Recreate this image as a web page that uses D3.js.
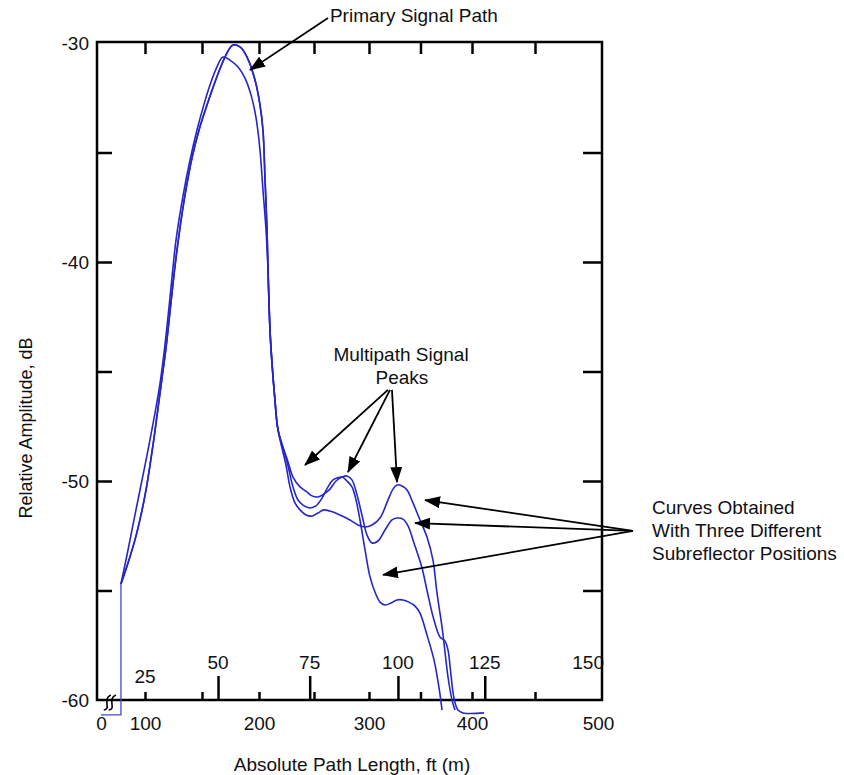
<!DOCTYPE html>
<meta charset="utf-8">
<style>
body { margin: 0; background: #fff; }
svg { display: block; background: #fff; }
text { font-family: "Liberation Sans", Arial, sans-serif; fill: #111; }
.tick line { stroke: #000; stroke-width: 2.5px; }
.axis path.domain { display: none; }
.curve { fill: none; stroke: #2626c8; stroke-width: 1.6px; }
.step { fill: none; stroke: #4646cc; stroke-width: 1.3px; }
.arrow { stroke: #000; stroke-width: 1.8px; }
</style>
<body>
<div id="chart"></div>
<script src="https://cdn.jsdelivr.net/npm/d3@7"></script>
<script>
// main lobe, two visible shapes (ft, dB)
var lobeAFt = [78.9, 85.1, 91.2, 96.5, 100.9, 104.4, 107.9, 111.4, 114.9, 118.4, 121.9, 125.4, 129.8, 135.1, 141.2, 147.4, 154.4, 161.4, 167.5, 172.8, 177.2, 183.3, 189.5, 196.5, 200.9, 203.6, 205.5, 207.3, 208.2, 210.0, 211.8, 214.5, 217.3];
var lobeADb = [-54.70, -53.74, -52.69, -51.55, -50.41, -49.27, -48.04, -46.67, -45.30, -43.93, -42.28, -40.59, -38.77, -36.94, -35.25, -33.97, -32.83, -31.78, -30.96, -30.37, -30.09, -30.18, -30.64, -31.69, -32.83, -33.97, -36.26, -38.54, -40.37, -43.11, -44.61, -46.30, -47.67];
var lobeBFt = [78.9, 85.1, 91.2, 97.4, 103.5, 108.8, 113.2, 117.5, 121.9, 127.2, 133.3, 139.5, 145.6, 151.8, 157.0, 162.3, 168.4, 174.5, 181.6, 187.7, 193.0, 197.4, 200.9, 203.6, 206.4, 208.2, 210.0, 211.8, 214.5, 217.3];
var lobeBDb = [-54.70, -53.15, -51.55, -49.95, -48.36, -46.89, -45.53, -43.79, -41.64, -39.00, -36.99, -35.34, -33.97, -32.79, -31.92, -31.19, -30.64, -30.78, -31.10, -31.60, -32.37, -33.42, -34.89, -36.71, -38.54, -40.37, -43.11, -44.61, -46.30, -47.67];

// multipath tails for the three subreflector positions
var tail1Ft = [224.5, 228.2, 232.7, 237.3, 242.7, 248.2, 253.6, 259.1, 267.3, 275.5, 282.7, 290.0, 296.4, 302.9, 310.7, 318.4, 323.3, 327.2, 332.0, 336.9, 342.7, 349.5, 356.3, 362.1, 366.0, 370.9, 372.8, 376.7, 380.6, 383.5];
var tail1Db = [-49.27, -50.27, -51.00, -51.32, -51.55, -51.60, -51.46, -51.32, -51.42, -51.60, -51.78, -52.01, -52.10, -52.01, -51.69, -50.87, -50.37, -50.18, -50.23, -50.41, -51.00, -51.78, -52.56, -53.61, -55.11, -56.67, -57.40, -58.95, -60.00, -60.46];
var tail2Ft = [226.4, 230.9, 237.3, 243.6, 248.2, 253.6, 259.1, 264.5, 270.0, 275.5, 280.0, 284.5, 289.1, 293.6, 298.2, 302.9, 308.7, 315.5, 322.3, 327.2, 333.0, 337.9, 342.7, 347.6, 351.5, 357.3, 363.1, 368.9, 373.8, 376.7, 379.6, 382.5, 386.4, 391.3, 409.5];
var tail2Db = [-49.13, -49.82, -50.27, -50.50, -50.68, -50.73, -50.59, -50.37, -50.00, -49.82, -49.77, -49.95, -50.64, -51.55, -52.47, -52.83, -52.74, -52.24, -51.78, -51.69, -51.74, -52.05, -52.69, -53.38, -53.97, -55.21, -56.35, -57.12, -57.31, -57.72, -58.86, -59.91, -60.46, -60.59, -60.59];
var tail3Ft = [225.5, 230.9, 235.5, 240.0, 246.4, 251.8, 257.3, 262.7, 267.3, 270.9, 275.5, 280.0, 284.5, 288.2, 291.8, 296.4, 301.0, 305.8, 310.7, 315.5, 321.4, 327.2, 333.0, 338.8, 344.7, 349.5, 356.3, 363.1, 368.0, 370.9];
var tail3Db = [-49.13, -50.27, -50.87, -51.10, -51.23, -51.14, -50.78, -50.27, -49.95, -49.86, -49.82, -50.00, -50.27, -50.87, -51.78, -53.15, -54.38, -55.07, -55.53, -55.66, -55.57, -55.43, -55.43, -55.53, -55.71, -56.03, -57.03, -58.17, -59.45, -60.46];

// gate step before the axis break
var stepFt = [0, 78.9, 78.9];
var stepDb = [-60.68, -60.68, -54.70];

var yLabels = [-30, -40, -50, -60];
var yTicks = [-35, -40, -45, -50, -55];
var ftLabels = [0, 100, 200, 300, 400, 500];
var ftTicks = [100, 150, 200, 250, 300, 350, 400, 450];
var mLabels = [25, 50, 75, 100, 125, 150];
var mTicks = [50, 75, 100, 125];

var W = 844, H = 775;
var plotL = 97, plotR = 602, plotT = 42, plotB = 700;

var svg = d3.select("#chart").append("svg")
    .attr("width", W)
    .attr("height", H);

var y = d3.scaleLinear().domain([-60, -30]).range([plotB, plotT + 1]);
// the drawing's feet axis is not evenly spaced, so it is pinned at its labels
var x = d3.scaleLinear()
    .domain([0, 75, 100, 200, 300, 400, 500])
    .range([plotL + 4, 116.5, 145, 259, 369, 472, 598]);
var xm = x.copy().domain(x.domain().map(function(d) { return d / 3.281; }));

var defs = svg.append("defs");
defs.append("marker")
    .attr("id", "head")
    .attr("viewBox", "0 0 16 12")
    .attr("refX", 15).attr("refY", 6)
    .attr("markerWidth", 16).attr("markerHeight", 12)
    .attr("markerUnits", "userSpaceOnUse")
    .attr("orient", "auto")
    .append("path").attr("d", "M0,0L16,6L0,12Z").attr("fill", "#000");

// ticks
svg.append("g").attr("class", "axis")
    .attr("transform", "translate(" + plotL + ",0)")
    .call(d3.axisRight(y).tickValues(yTicks).tickSize(15).tickFormat(""));
svg.append("g").attr("class", "axis")
    .attr("transform", "translate(" + plotR + ",0)")
    .call(d3.axisLeft(y).tickValues(yTicks).tickSize(19).tickFormat(""));
svg.append("g").attr("class", "axis")
    .attr("transform", "translate(0," + plotT + ")")
    .call(d3.axisBottom(x).tickValues(ftTicks).tickSize(12).tickFormat(""));
svg.append("g").attr("class", "axis")
    .attr("transform", "translate(0," + plotB + ")")
    .call(d3.axisTop(x).tickValues(ftTicks).tickSize(8).tickFormat(""));
svg.append("g").attr("class", "axis")
    .attr("transform", "translate(0," + plotB + ")")
    .call(d3.axisTop(xm).tickValues(mTicks).tickSize(24).tickFormat(""));

// tick labels
var yl = svg.append("g").attr("class", "axis")
    .attr("transform", "translate(" + plotL + ",0)")
    .call(d3.axisLeft(y).tickValues(yLabels).tickSize(0).tickPadding(8)
        .tickFormat(function(d) { return String(d); }));
yl.selectAll("text").style("font-size", "19px").style("font-family", "Liberation Sans, Arial, sans-serif").attr("fill", "#111");

var xl = svg.append("g").attr("class", "axis")
    .attr("transform", "translate(0," + plotB + ")")
    .call(d3.axisBottom(x).tickValues(ftLabels).tickSize(0).tickPadding(17)
        .tickFormat(function(d) { return String(d); }));
xl.selectAll("text").style("font-size", "19px").style("font-family", "Liberation Sans, Arial, sans-serif").attr("fill", "#111");

// metre labels sit over their long ticks; 25 m has none and sits low on the first foot tick past the break
function hasTick(d) { return mTicks.indexOf(d) >= 0 || d > d3.max(mTicks); }
svg.append("g").selectAll("text")
    .data(mLabels)
    .enter().append("text")
    .attr("x", function(d) { return hasTick(d) ? xm(d) : x(ftTicks[0]); })
    .attr("y", function(d) { return hasTick(d) ? plotB - 31 : plotB - 17; })
    .attr("text-anchor", "middle")
    .style("font-size", "19px")
    .text(function(d) { return d; });

// frame
svg.append("rect")
    .attr("x", plotL).attr("y", plotT)
    .attr("width", plotR - plotL).attr("height", plotB - plotT)
    .attr("fill", "none").attr("stroke", "#000").attr("stroke-width", 2.5);

// axis break mark
var brk = svg.append("g").attr("transform", "translate(" + x(45) + "," + (y(-60) + 3) + ")");
[-2.5, 2.5].forEach(function(o) {
    var p = d3.path();
    p.moveTo(o - 4, 7);
    p.bezierCurveTo(o + 4, 6, o - 6, -4, o + 3, -8);
    brk.append("path").attr("d", p.toString())
        .attr("fill", "none").attr("stroke", "#000").attr("stroke-width", 1.6);
});

// curves
function pts(fx, fy) {
    return fx.map(function(v, i) { return [v, fy[i]]; });
}
var line = d3.line()
    .x(function(d) { return x(d[0]); })
    .y(function(d) { return y(d[1]); })
    .curve(d3.curveCatmullRom.alpha(0.5));

svg.append("path").attr("class", "step")
    .attr("d", d3.line().x(function(d) { return x(d[0]); }).y(function(d) { return y(d[1]); })(pts(stepFt, stepDb)));

var curves = [
    pts(lobeAFt, lobeADb).concat(pts(tail1Ft, tail1Db)),
    pts(lobeAFt, lobeADb).concat(pts(tail2Ft, tail2Db)),
    pts(lobeBFt, lobeBDb).concat(pts(tail3Ft, tail3Db))
];
svg.selectAll(".curve")
    .data(curves)
    .enter().append("path")
    .attr("class", "curve")
    .attr("d", line);

// annotations, placed in data units
var arrows = [
    [262.7, -28.86, 192.1, -31.23],
    [318.4, -45.84, 241.8, -49.27],
    [320.4, -45.84, 280.9, -49.59],
    [322.3, -45.84, 327.2, -50.05],
    [527.8, -52.28, 354.4, -50.87],
    [527.8, -52.28, 344.7, -51.92],
    [527.8, -52.28, 313.6, -54.29]
];
svg.selectAll(".arrow")
    .data(arrows)
    .enter().append("line")
    .attr("class", "arrow")
    .attr("x1", function(d) { return x(d[0]); })
    .attr("y1", function(d) { return y(d[1]); })
    .attr("x2", function(d) { return x(d[2]); })
    .attr("y2", function(d) { return y(d[3]); })
    .attr("marker-end", "url(#head)");

var notes = [
    ["Primary Signal Path", 264.5, -29.04, "start"],
    ["Multipath Signal", 331.1, -44.52, "middle"],
    ["Peaks", 332.0, -45.57, "middle"],
    ["Curves Obtained", 542.9, -51.51, "start"],
    ["With Three Different", 542.9, -52.56, "start"],
    ["Subreflector Positions", 542.9, -53.61, "start"]
];
svg.selectAll(".note")
    .data(notes)
    .enter().append("text")
    .attr("class", "note")
    .attr("x", function(d) { return x(d[1]); })
    .attr("y", function(d) { return y(d[2]); })
    .attr("text-anchor", function(d) { return d[3]; })
    .style("font-size", "19px")
    .text(function(d) { return d[0]; });

// axis titles
svg.append("text")
    .attr("transform", "translate(32,428) rotate(-90)")
    .attr("text-anchor", "middle")
    .style("font-size", "18px")
    .text("Relative Amplitude, dB");
svg.append("text")
    .attr("x", 352).attr("y", 771)
    .attr("text-anchor", "middle")
    .style("font-size", "19px")
    .text("Absolute Path Length, ft (m)");
</script>
</body>
